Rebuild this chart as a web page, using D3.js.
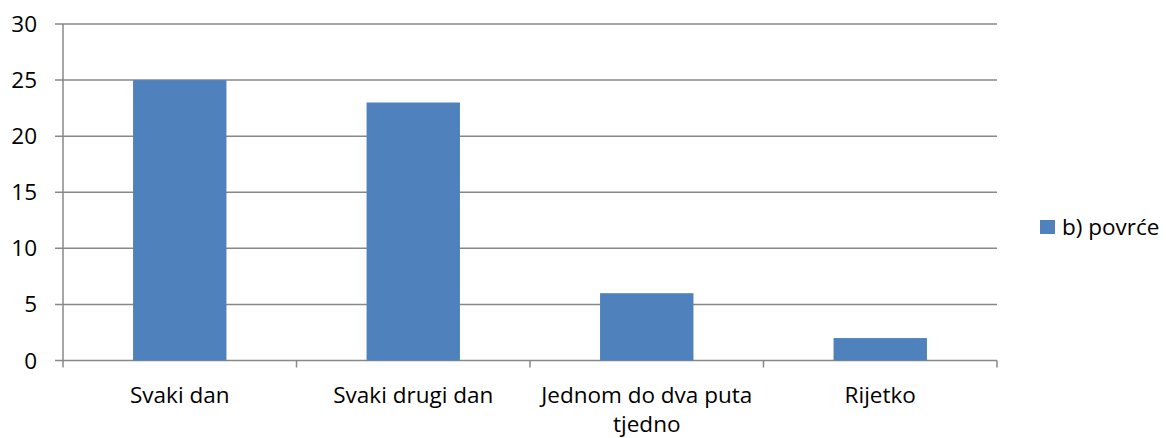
<!DOCTYPE html>
<html>
<head>
<meta charset="utf-8">
<script src="https://cdn.jsdelivr.net/npm/d3@7"></script>
<style>
  html, body { margin: 0; padding: 0; background: #fff; }
  svg text { font-family: "Open Sans", "Noto Sans", sans-serif; fill: #000; }
</style>
</head>
<body>
<svg id="chart" width="1166" height="438"></svg>
<script>
// Survey answers: how often vegetables are eaten
const categories = ["Svaki dan", "Svaki drugi dan", "Jednom do dva puta tjedno", "Rijetko"];
const values = [25, 23, 6, 2];
const seriesName = "b) povrće";
const yTicks = [0, 5, 10, 15, 20, 25, 30];

const svg = d3.select("#chart");
const plotLeft = 63, plotRight = 997, plotTop = 24, plotBottom = 360.5;
const barColor = "#4F81BD";
const gridColor = "#888888";
const fontSize = "22.5px";

const x = d3.scaleBand().domain(categories).range([plotLeft, plotRight]).paddingInner(0.6).paddingOuter(0.3);
const xOuter = d3.scaleBand().domain(categories).range([plotLeft, plotRight]);
const y = d3.scaleLinear().domain([0, 30]).range([plotBottom, plotTop]);

// Horizontal gridlines with tick stubs on the left
svg.append("g").selectAll("line").data(yTicks).join("line")
  .attr("x1", plotLeft - 8).attr("x2", plotRight)
  .attr("y1", d => y(d)).attr("y2", d => y(d))
  .attr("stroke", gridColor).attr("stroke-width", 1.5);

// Vertical axis line
svg.append("line")
  .attr("x1", plotLeft).attr("x2", plotLeft).attr("y1", plotTop).attr("y2", plotBottom)
  .attr("stroke", gridColor).attr("stroke-width", 1.5);

// Category boundary ticks below the baseline
const bounds = categories.map(c => xOuter(c)).concat([plotRight]);
svg.append("g").selectAll("line").data(bounds).join("line")
  .attr("x1", d => d).attr("x2", d => d)
  .attr("y1", plotBottom).attr("y2", plotBottom + 7)
  .attr("stroke", gridColor).attr("stroke-width", 1.5);

// Y tick labels
svg.append("g").selectAll("text").data(yTicks).join("text")
  .attr("x", 37).attr("y", d => y(d) + 8)
  .attr("text-anchor", "end")
  .style("font-size", fontSize)
  .text(d => d);

// Bars
svg.append("g").selectAll("rect").data(values).join("rect")
  .attr("x", (d, i) => x(categories[i]))
  .attr("width", x.bandwidth())
  .attr("y", d => y(d))
  .attr("height", d => y(0) - y(d))
  .attr("fill", barColor);

// Category labels, wrapped to the band width
const labelG = svg.append("g");
categories.forEach(c => {
  const cx = xOuter(c) + xOuter.bandwidth() / 2;
  const t = labelG.append("text")
    .attr("x", cx).attr("y", 403)
    .attr("text-anchor", "middle")
    .style("font-size", fontSize);
  const words = c.split(" ");
  let line = [];
  let tspan = t.append("tspan").attr("x", cx).attr("dy", 0);
  words.forEach(w => {
    line.push(w);
    tspan.text(line.join(" "));
    if (tspan.node().getComputedTextLength() > xOuter.bandwidth() - 10 && line.length > 1) {
      line.pop();
      tspan.text(line.join(" "));
      line = [w];
      tspan = t.append("tspan").attr("x", cx).attr("dy", 29).text(w);
    }
  });
});

// Legend
const legend = svg.append("g").attr("transform", "translate(1040,220)");
legend.append("rect").attr("width", 15).attr("height", 14).attr("fill", barColor);
legend.append("text").attr("x", 22).attr("y", 15).style("font-size", fontSize).text(seriesName);
</script>
</body>
</html>
